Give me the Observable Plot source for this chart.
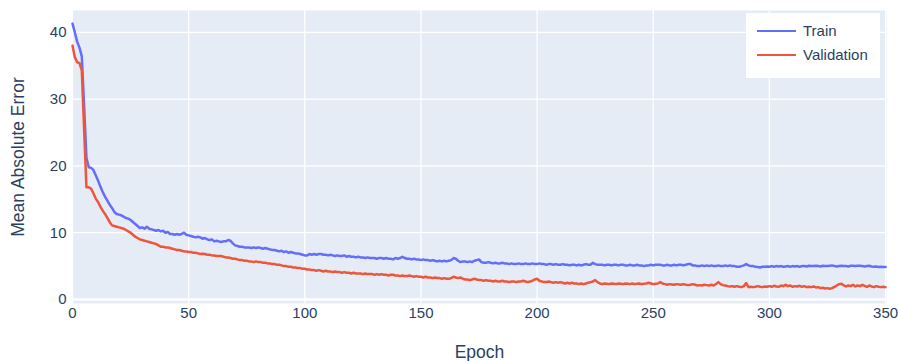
<!DOCTYPE html>
<html>
<head>
<meta charset="utf-8">
<script src="https://cdn.jsdelivr.net/npm/d3@7"></script>
<script src="https://cdn.jsdelivr.net/npm/@observablehq/plot@0.6"></script>
<style>
  body { margin: 0; background: white; }
  #wrap { position: relative; width: 898px; height: 361px; font-family: "Liberation Sans", Arial, sans-serif; }
  #legend { position: absolute; left: 746px; top: 13px; width: 134px; height: 65px; background: white; }
  .item { position: absolute; left: 0; height: 20px; }
  .swatch { position: absolute; left: 11px; width: 39px; height: 0; border-top: 2.5px solid; }
  .lbl { position: absolute; left: 57px; font-size: 15px; color: #2a3f5f; white-space: nowrap; line-height: 20px; }
</style>
</head>
<body>
<div id="wrap">
  <div id="chart"></div>
  <div id="legend"></div>
</div>
<script>
const seriesNames = ["Train", "Validation"];
const seriesColors = ["#636efa", "#EF553B"];
const xTicks = [0, 50, 100, 150, 200, 250, 300, 350];
const yTicks = [0, 10, 20, 30, 40];
const xLabel = "Epoch";
const yLabel = "Mean Absolute Error";

const train = [
41.3, 40.0, 38.6, 37.7, 36.4, 29.0, 21.2, 19.8, 19.7, 19.4,
18.6, 17.8, 16.9, 16.1, 15.4, 14.8, 14.2, 13.7, 13.1, 12.8,
12.7, 12.6, 12.4, 12.2, 12.1, 11.9, 11.6, 11.3, 11.0, 10.7,
10.8, 10.6, 10.9, 10.6, 10.5, 10.4, 10.3, 10.4, 10.2, 10.3,
10.0, 10.1, 9.8, 9.8, 9.7, 9.8, 9.7, 9.8, 10.0, 9.7,
9.6, 9.5, 9.4, 9.3, 9.4, 9.3, 9.1, 9.2, 9.0, 8.9,
9.0, 8.7, 8.8, 8.7, 8.6, 8.7, 8.7, 8.9, 8.8, 8.4,
8.1, 8.0, 7.9, 7.9, 7.8, 7.8, 7.8, 7.7, 7.8, 7.7,
7.8, 7.7, 7.6, 7.7, 7.6, 7.5, 7.4, 7.4, 7.3, 7.2,
7.3, 7.1, 7.2, 7.0, 7.1, 7.0, 6.9, 6.9, 6.8, 6.7,
6.6, 6.6, 6.8, 6.7, 6.8, 6.7, 6.8, 6.8, 6.7, 6.7,
6.6, 6.7, 6.6, 6.5, 6.6, 6.5, 6.5, 6.6, 6.4, 6.5,
6.4, 6.4, 6.3, 6.4, 6.3, 6.3, 6.2, 6.3, 6.2, 6.2,
6.2, 6.1, 6.2, 6.2, 6.1, 6.2, 6.1, 6.1, 6.0, 6.2,
6.1, 6.2, 6.4, 6.2, 6.1, 6.1, 6.0, 6.1, 6.0, 6.0,
5.9, 6.0, 5.9, 5.9, 5.8, 5.9, 5.8, 5.7, 5.8, 5.7,
5.8, 5.7, 5.8, 5.9, 6.2, 6.1, 5.8, 5.6, 5.7, 5.7,
5.6, 5.7, 5.6, 5.8, 5.9, 6.0, 5.6, 5.5, 5.5, 5.6,
5.5, 5.4, 5.5, 5.4, 5.4, 5.5, 5.4, 5.4, 5.3, 5.4,
5.3, 5.3, 5.4, 5.3, 5.3, 5.4, 5.3, 5.3, 5.4, 5.3,
5.3, 5.4, 5.3, 5.3, 5.2, 5.3, 5.3, 5.2, 5.3, 5.2,
5.2, 5.3, 5.2, 5.2, 5.1, 5.2, 5.2, 5.1, 5.2, 5.1,
5.2, 5.3, 5.2, 5.2, 5.5, 5.3, 5.2, 5.2, 5.2, 5.1,
5.2, 5.2, 5.1, 5.2, 5.2, 5.1, 5.2, 5.2, 5.1, 5.1,
5.2, 5.1, 5.1, 5.2, 5.1, 5.1, 5.0, 5.1, 5.1, 5.2,
5.1, 5.2, 5.2, 5.2, 5.1, 5.1, 5.2, 5.1, 5.1, 5.2,
5.1, 5.2, 5.2, 5.1, 5.2, 5.3, 5.3, 5.1, 5.1, 5.0,
5.0, 5.1, 5.0, 5.1, 5.0, 5.1, 5.0, 5.0, 5.1, 5.0,
5.0, 5.1, 5.0, 5.1, 5.0, 5.0, 4.9, 4.9, 5.0, 5.1,
5.3, 5.1, 5.0, 5.0, 4.9, 4.85, 4.8, 4.9, 4.9, 4.95,
4.9, 5.0, 4.9, 5.0, 4.95, 5.0, 4.9, 4.95, 5.0, 4.9,
5.0, 4.95, 5.0, 4.9, 5.0, 5.0, 4.95, 5.05, 5.0, 5.0,
5.05, 5.0, 4.95, 5.05, 5.0, 5.0, 5.05, 5.1, 5.0, 4.95,
5.0, 5.05, 5.0, 5.0, 4.95, 5.05, 5.05, 5.0, 5.05, 5.05,
5.0, 4.95, 5.0, 5.05, 4.95, 4.9, 4.95, 4.85, 4.9, 4.85,
4.85
];

const validation = [
38.0, 36.3, 35.5, 35.4, 34.3, 25.5, 16.8, 16.8, 16.6, 15.9,
15.1, 14.6, 13.9, 13.3, 12.8, 12.2, 11.6, 11.1, 11.0, 10.9,
10.8, 10.7, 10.6, 10.4, 10.2, 10.0, 9.7, 9.4, 9.2, 9.0,
8.9, 8.8, 8.7, 8.6, 8.5, 8.4, 8.3, 8.1, 7.9, 7.9,
7.8, 7.8, 7.7, 7.6, 7.5, 7.4, 7.4, 7.3, 7.2, 7.2,
7.1, 7.1, 7.0, 7.0, 6.9, 6.8, 6.85, 6.8, 6.7, 6.7,
6.6, 6.6, 6.5, 6.5, 6.5, 6.4, 6.3, 6.3, 6.2, 6.1,
6.1, 6.0, 5.9, 5.9, 5.8, 5.8, 5.7, 5.7, 5.6, 5.7,
5.6, 5.6, 5.5, 5.5, 5.4, 5.4, 5.3, 5.3, 5.2, 5.2,
5.1, 5.0, 5.0, 4.9, 4.9, 4.8, 4.8, 4.7, 4.7, 4.6,
4.6, 4.5, 4.5, 4.4, 4.4, 4.3, 4.4, 4.3, 4.2, 4.3,
4.2, 4.2, 4.1, 4.2, 4.1, 4.1, 4.0, 4.1, 4.0, 4.0,
3.9, 4.0, 3.9, 3.9, 3.9, 3.8, 3.9, 3.8, 3.8, 3.8,
3.7, 3.8, 3.7, 3.8, 3.7, 3.7, 3.6, 3.7, 3.7, 3.6,
3.6, 3.5, 3.6, 3.5, 3.5, 3.6, 3.5, 3.4, 3.5, 3.4,
3.4, 3.3, 3.4, 3.3, 3.3, 3.2, 3.3, 3.2, 3.2, 3.1,
3.2, 3.1, 3.1, 3.2, 3.4, 3.3, 3.2, 3.3, 3.1, 3.0,
3.0, 2.9, 3.0, 3.1, 3.0, 2.9, 2.9, 2.8, 2.9, 2.8,
2.8, 2.7, 2.8, 2.7, 2.7, 2.8, 2.7, 2.7, 2.6, 2.7,
2.7, 2.6, 2.7, 2.7, 2.8, 2.7, 2.6, 2.7, 2.8, 3.0,
3.1, 2.8, 2.7, 2.6, 2.6, 2.7, 2.6, 2.5, 2.6, 2.5,
2.6, 2.5, 2.4, 2.5, 2.4, 2.5, 2.4, 2.4, 2.3, 2.4,
2.3, 2.4, 2.5, 2.6, 2.7, 2.9, 2.6, 2.4, 2.3, 2.4,
2.35, 2.3, 2.4, 2.35, 2.3, 2.4, 2.35, 2.3, 2.4, 2.35,
2.3, 2.4, 2.3, 2.35, 2.4, 2.3, 2.35, 2.4, 2.5, 2.4,
2.3, 2.35, 2.4, 2.6, 2.4, 2.3, 2.2, 2.3, 2.25, 2.2,
2.3, 2.25, 2.2, 2.3, 2.2, 2.15, 2.2, 2.3, 2.2, 2.1,
2.15, 2.1, 2.2, 2.15, 2.1, 2.2, 2.1, 2.3, 2.6, 2.3,
2.15, 2.1, 2.0, 1.95, 2.0, 1.9, 2.0, 1.9, 1.85, 2.0,
2.45, 1.85, 1.9, 1.85, 1.9, 2.0, 1.9, 1.85, 1.95, 1.9,
2.0, 1.9, 2.05, 1.95, 1.9, 2.1, 2.0, 2.2, 2.0, 2.1,
1.9, 2.0, 1.95, 2.05, 1.9, 2.0, 1.85, 1.9, 1.85, 1.95,
1.8, 1.85, 1.7, 1.75, 1.65, 1.7, 1.6, 1.7, 1.9, 2.1,
2.3, 2.35, 2.1, 1.95, 2.1, 2.0, 2.2, 1.95, 2.1, 2.0,
2.2, 2.05, 1.9, 2.1, 1.95, 1.85, 2.0, 1.9, 1.85, 1.9,
1.85
];

const epochs = train.map((_, i) => i);
const rows = [];
[train, validation].forEach((vals, s) => {
  vals.forEach((v, i) => rows.push({epoch: epochs[i], value: v, series: seriesNames[s]}));
});

const font = '"Liberation Sans", Arial, sans-serif';
const textColor = "#2a3f5f";

const chart = Plot.plot({
  width: 898,
  height: 361,
  marginLeft: 72,
  marginRight: 12,
  marginTop: 10,
  marginBottom: 58,
  style: {fontFamily: font, fontSize: "15px", color: textColor, background: "white", overflow: "visible"},
  x: {domain: [0, 350.4]},
  y: {domain: [-0.6, 43.26]},
  color: {domain: seriesNames, range: seriesColors},
  marks: [
    Plot.frame({fill: "#E5ECF6", stroke: null}),
    Plot.gridX({ticks: xTicks, stroke: "white", strokeOpacity: 1, strokeWidth: 1.25}),
    Plot.gridY({ticks: yTicks.filter(d => d !== 0), stroke: "white", strokeOpacity: 1, strokeWidth: 1.25}),
    Plot.ruleY([0], {stroke: "white", strokeWidth: 2.5}),
    Plot.axisX({ticks: xTicks, tickSize: 0, tickPadding: 4, label: null, fill: textColor}),
    Plot.axisY({ticks: yTicks, tickSize: 0, tickPadding: 6, label: null, fill: textColor}),
    Plot.line(rows, {x: "epoch", y: "value", z: "series", stroke: "series", strokeWidth: 2.5, curve: "linear"}),
    Plot.text([xLabel], {frameAnchor: "bottom", dy: 49, lineAnchor: "middle", textAnchor: "middle", fontSize: 17.5, fill: textColor}),
    Plot.text([yLabel], {frameAnchor: "left", dx: -54, rotate: -90, lineAnchor: "middle", textAnchor: "middle", fontSize: 17.5, fill: textColor})
  ]
});
document.getElementById("chart").appendChild(chart);

const legend = document.getElementById("legend");
seriesNames.forEach((name, i) => {
  const item = document.createElement("div");
  item.className = "item";
  item.style.top = (8 + i * 24) + "px";
  item.style.width = "134px";
  const sw = document.createElement("div");
  sw.className = "swatch";
  sw.style.borderTopColor = seriesColors[i];
  sw.style.top = "9px";
  const lb = document.createElement("div");
  lb.className = "lbl";
  lb.textContent = name;
  item.appendChild(sw);
  item.appendChild(lb);
  legend.appendChild(item);
});
</script>
</body>
</html>
